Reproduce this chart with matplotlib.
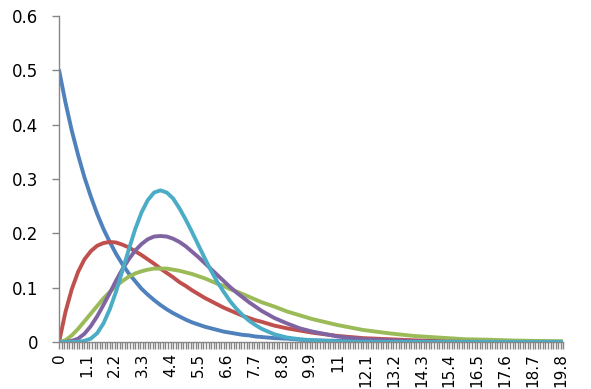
import matplotlib
matplotlib.use("Agg")
import matplotlib.pyplot as plt

# sample points along the category axis (0 .. 19.9)
x = [0, 0.25, 0.5, 0.75, 1, 1.25, 1.5, 1.75, 2, 2.25, 2.5, 2.75, 3, 3.25, 3.5, 3.75,
     4, 4.25, 4.5, 4.75, 5, 5.25, 5.5, 5.75, 6, 6.25, 6.5, 6.75, 7, 7.25, 7.5, 7.75,
     8, 8.5, 9, 9.5, 10, 11, 12, 13, 14, 15, 16, 17, 18, 19, 19.9]

blue = [0.5, 0.441, 0.389, 0.344, 0.303, 0.268, 0.236, 0.208, 0.184, 0.162, 0.143, 0.126,
        0.112, 0.098, 0.087, 0.077, 0.068, 0.060, 0.053, 0.047, 0.041, 0.036, 0.032, 0.028,
        0.025, 0.022, 0.019, 0.017, 0.015, 0.013, 0.012, 0.010, 0.009, 0.007, 0.006, 0.004,
        0.003, 0.002, 0.001, 0.001, 0, 0, 0, 0, 0, 0, 0]
red = [0, 0.055, 0.097, 0.129, 0.152, 0.167, 0.177, 0.182, 0.184, 0.183, 0.179, 0.174,
       0.167, 0.160, 0.152, 0.144, 0.135, 0.127, 0.119, 0.110, 0.103, 0.095, 0.088, 0.081,
       0.075, 0.069, 0.063, 0.058, 0.053, 0.048, 0.044, 0.040, 0.037, 0.030, 0.025, 0.021,
       0.017, 0.011, 0.007, 0.005, 0.003, 0.002, 0.0013, 0.0009, 0.0006, 0.0004, 0.0002]
green = [0, 0.003, 0.012, 0.024, 0.038, 0.052, 0.066, 0.080, 0.092, 0.103, 0.112, 0.120,
         0.126, 0.130, 0.133, 0.135, 0.135, 0.135, 0.133, 0.131, 0.128, 0.125, 0.121, 0.117,
         0.112, 0.107, 0.103, 0.097, 0.093, 0.088, 0.083, 0.078, 0.073, 0.065, 0.056, 0.049,
         0.042, 0.031, 0.022, 0.016, 0.011, 0.008, 0.005, 0.004, 0.0025, 0.0017, 0.0012]
purple = [0, 0.0001, 0.002, 0.006, 0.015, 0.029, 0.047, 0.068, 0.090, 0.113, 0.134, 0.152,
          0.168, 0.180, 0.189, 0.194, 0.195, 0.194, 0.190, 0.184, 0.176, 0.166, 0.156, 0.145,
          0.134, 0.123, 0.112, 0.101, 0.091, 0.082, 0.073, 0.065, 0.057, 0.044, 0.034, 0.025,
          0.019, 0.010, 0.005, 0.003, 0.0013, 0.0006, 0.0003, 0.0001, 0, 0, 0]
cyan = [0, 0, 0, 0.0003, 0.002, 0.006, 0.016, 0.034, 0.060, 0.093, 0.131, 0.170,
        0.207, 0.238, 0.261, 0.275, 0.279, 0.275, 0.264, 0.246, 0.225, 0.202, 0.178, 0.154,
        0.131, 0.110, 0.092, 0.075, 0.061, 0.049, 0.039, 0.031, 0.024, 0.014, 0.008, 0.005,
        0.003, 0.0008, 0.0002, 0, 0, 0, 0, 0, 0, 0, 0]

tick_pos = [0, 1.1, 2.2, 3.3, 4.4, 5.5, 6.6, 7.7, 8.8, 9.9, 11, 12.1, 13.2, 14.3,
            15.4, 16.5, 17.6, 18.7, 19.8]
tick_labels = ["0", "1.1", "2.2", "3.3", "4.4", "5.5", "6.6", "7.7", "8.8", "9.9", "11",
               "12.1", "13.2", "14.3", "15.4", "16.5", "17.6", "18.7", "19.8"]
y_ticks = [0, 0.1, 0.2, 0.3, 0.4, 0.5, 0.6]
y_labels = ["0", "0.1", "0.2", "0.3", "0.4", "0.5", "0.6"]

fig = plt.figure(figsize=(5.91, 3.89), dpi=100)
ax = fig.add_axes([0.1, 0.121, 0.853, 0.838])

# same order as excel draws them
ax.plot(x, blue, color="#4F81BD", lw=2.8, solid_capstyle="round")
ax.plot(x, red, color="#C0504D", lw=2.8, solid_capstyle="round")
ax.plot(x, green, color="#9BBB59", lw=2.8, solid_capstyle="round")
ax.plot(x, purple, color="#8064A2", lw=2.8, solid_capstyle="round")
ax.plot(x, cyan, color="#4BACC6", lw=2.8, solid_capstyle="round")

ax.set_xlim(0, 19.9)
ax.set_ylim(0, 0.6)
ax.set_xticks(tick_pos)
ax.set_xticklabels(tick_labels, rotation=90, fontsize=11)
ax.set_xticks([i / 10 for i in range(200)], minor=True)
ax.set_yticks(y_ticks)
ax.set_yticklabels(y_labels, fontsize=12)

for s in ["top", "right"]:
    ax.spines[s].set_visible(False)
for s in ["left", "bottom"]:
    ax.spines[s].set_color("#868686")
    ax.spines[s].set_linewidth(1)
ax.tick_params(axis="both", which="both", color="#868686", direction="out", length=5, width=1)
ax.tick_params(axis="x", which="major", pad=3)
ax.tick_params(axis="y", pad=10)

fig.savefig("out.png", dpi=100)
